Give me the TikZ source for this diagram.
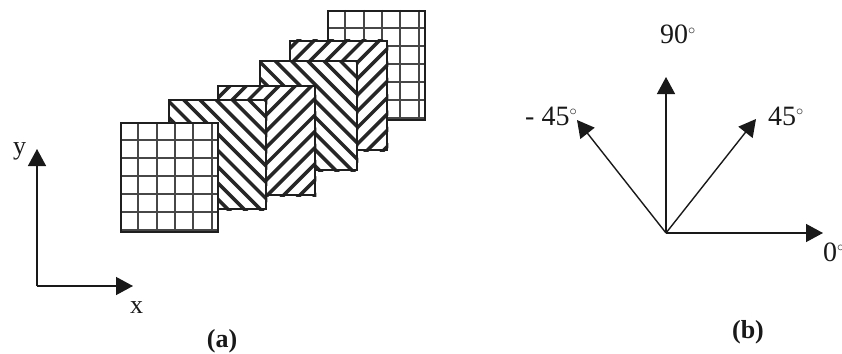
\documentclass[tikz,border=0pt]{standalone}
\usepackage{fontspec}
\setmainfont{Liberation Serif}
\usetikzlibrary{arrows.meta,calc}
\tikzset{
  plate/.style={draw=black!88,line width=2.3pt,fill=white,rectangle,minimum width=97pt,minimum height=109pt,inner sep=0pt,anchor=north west},
  gridline/.style={draw=black!72,line width=2pt},
  stripe/.style={draw=black!85,line width=3.5pt},
  axisarrow/.style={draw=black!90,line width=1.4pt,-{Triangle[length=17pt,width=18pt]}},
  lab/.style={inner sep=0pt,anchor=base west,font=\fontsize{28}{30}\selectfont,text=black!90},
  captext/.style={inner sep=0pt,anchor=base,font=\fontsize{26}{28}\selectfont\bfseries,text=black!90},
  axlab/.style={inner sep=0pt,anchor=base west,font=\fontsize{26}{28}\selectfont,text=black!90}
}
\newcommand{\degsign}{${}^{\scriptscriptstyle\circ}$}
% \gridplate{name}{x}{y}
\newcommand{\gridplate}[3]{%
  \node[plate] (#1) at (#2,#3) {};
  \begin{scope}
    \clip (#1.north west) rectangle (#1.south east);
    \foreach \k in {1,...,5} {
      \draw[gridline] ($(#1.north west)+(18.3*\k,0)$) -- ++(0,109);
    }
    \foreach \k in {1,...,6} {
      \draw[gridline] ($(#1.north west)+(0,18*\k)$) -- ++(97,0);
    }
  \end{scope}
  \node[plate,fill=none] at (#2,#3) {};
}
% \hatchplate{name}{x}{y}{slope sign}{phase}
\newcommand{\hatchplate}[5]{%
  \node[plate] (#1) at (#2,#3) {};
  \begin{scope}
    \clip (#1.north west) rectangle (#1.south east);
    \foreach \k in {-16,...,16} {
      \draw[stripe] ($(#1.center)+(\k*16.3+#5,0)+(-120,-120*#4)$) -- ++(240,240*#4);
    }
  \end{scope}
  \node[plate,fill=none] at (#2,#3) {};
}
\begin{document}
\begin{tikzpicture}[x=1pt,y=-1pt]
\useasboundingbox (0,0) rectangle (842,353);
\gridplate{p6}{327}{10}
\hatchplate{p5}{289}{40}{-1}{1.8}
\hatchplate{p4}{259}{60}{1}{5}
\hatchplate{p3}{217}{85}{-1}{6.4}
\hatchplate{p2}{168}{99}{1}{4.5}
\gridplate{p1}{120}{122}
% axes (a)
\coordinate (oa) at (37,286);
\coordinate (ya) at (37,149);
\coordinate (xa) at (133,286);
\draw[axisarrow] (oa) -- (ya);
\draw[axisarrow] (oa) -- (xa);
\node[axlab] (ylab) at (13,154) {y};
\node[axlab] (xlab) at (130,313) {x};
\node[captext] (capa) at (222,347) {(a)};
% rosette (b)
\coordinate (ob) at (666,233);
\coordinate (t90) at (666,77);
\coordinate (t45) at (756,119);
\coordinate (tm45) at (577,120);
\coordinate (t0) at (823,233);
\draw[axisarrow] (ob) -- (t90);
\draw[axisarrow] (ob) -- (t45);
\draw[axisarrow] (ob) -- (tm45);
\draw[axisarrow] (ob) -- (t0);
\node[lab] (l90) at (660,44) {90\degsign};
\node[lab] (l45) at (768,125) {45\degsign};
\node[lab] (lm45) at (525,125) {- 45\degsign};
\node[lab] (l0) at (823,261) {0\degsign};
\node[captext] (capb) at (748,338) {(b)};
\end{tikzpicture}
\end{document}
